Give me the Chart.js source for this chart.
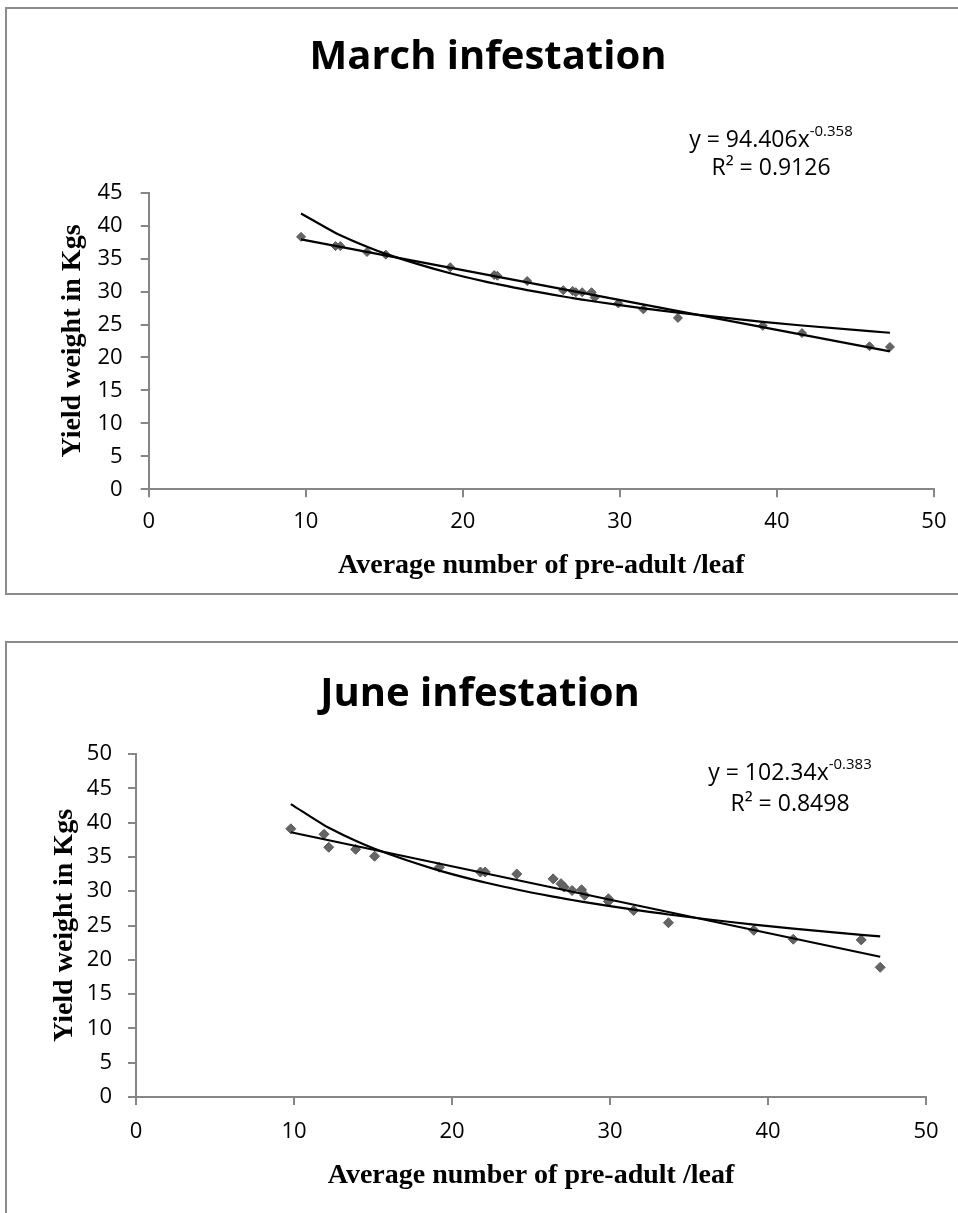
<!DOCTYPE html>
<html>
<head>
<meta charset="utf-8">
<script src="https://cdn.jsdelivr.net/npm/chart.js@4.4.0/dist/chart.umd.min.js"></script>
<style>
  body { margin: 0; background: #fff; width: 958px; height: 1213px; overflow: hidden; position: relative; }
  .frame { position: absolute; border: 2px solid #8c8c8c; box-sizing: border-box; }
  #frame1 { left: 5px; top: 7px; width: 990px; height: 588px; }
  #frame2 { left: 5px; top: 641px; width: 990px; height: 620px; }
  canvas { position: absolute; left: 0; }
  #marchChart { top: 0; }
  #juneChart { top: 620px; }
</style>
</head>
<body>
<div class="frame" id="frame1"></div>
<div class="frame" id="frame2"></div>
<canvas id="marchChart" width="958" height="600"></canvas>
<canvas id="juneChart" width="958" height="593"></canvas>
<script>
// March infestation: pre-adults per leaf vs yield (kg)
var marchX = [9.7, 11.9, 12.2, 13.9, 15.1, 19.2, 22.0, 22.2, 24.1, 26.4, 27.0, 27.2, 27.6, 28.2, 28.4, 29.9, 31.5, 33.7, 39.1, 41.6, 45.9, 47.2];
var marchY = [38.3, 36.9, 36.9, 36.0, 35.6, 33.7, 32.5, 32.4, 31.6, 30.2, 30.1, 29.9, 29.9, 29.9, 29.1, 28.2, 27.3, 26.0, 24.8, 23.7, 21.7, 21.6];

// June infestation
var juneX = [9.8, 11.9, 12.2, 13.9, 15.1, 19.2, 21.8, 22.1, 24.1, 26.4, 26.9, 27.1, 27.6, 28.2, 28.4, 29.9, 29.9, 31.5, 33.7, 39.1, 41.6, 45.9, 47.1];
var juneY = [39.1, 38.3, 36.4, 36.1, 35.1, 33.5, 32.8, 32.8, 32.5, 31.8, 31.1, 30.6, 30.1, 30.2, 29.4, 28.9, 28.5, 27.2, 25.4, 24.3, 23.0, 22.9, 18.9];

// power trendline equations as printed on the charts
var marchPow = { a: 94.406, b: -0.358, r2: '0.9126' };
var junePow = { a: 102.34, b: -0.383, r2: '0.8498' };

var xTicks = [0, 10, 20, 30, 40, 50];

var axisGray = '#868686';
var tickFont = { family: 'Open Sans', size: 22 };
var axisTitleFont = { family: 'Liberation Serif', size: 28, weight: 'bold' };

function toPoints(xs, ys) {
    return xs.map(function (x, i) { return { x: x, y: ys[i] }; });
}

function linearFit(xs, ys) {
    var n = xs.length, sx = 0, sy = 0, sxx = 0, sxy = 0;
    for (var i = 0; i < n; i++) {
        sx += xs[i]; sy += ys[i]; sxx += xs[i] * xs[i]; sxy += xs[i] * ys[i];
    }
    var m = (n * sxy - sx * sy) / (n * sxx - sx * sx);
    var c = (sy - m * sx) / n;
    var lo = Math.min.apply(null, xs), hi = Math.max.apply(null, xs);
    return [{ x: lo, y: m * lo + c }, { x: hi, y: m * hi + c }];
}

function powerCurve(xs, eq) {
    var uniq = xs.filter(function (v, i, a) { return a.indexOf(v) === i; });
    return uniq.map(function (x) { return { x: x, y: eq.a * Math.pow(x, eq.b) }; });
}

// draws "y = ax^b" and "R² = ..." like the Excel label
var equationLabel = {
    id: 'equationLabel',
    afterDraw: function (chart, args, opts) {
        var ctx = chart.ctx;
        ctx.save();
        ctx.fillStyle = '#000';
        ctx.textBaseline = 'middle';
        var main = 'y = ' + opts.a + 'x';
        var sup = String(opts.b);
        ctx.font = '23px "Open Sans"';
        var wMain = ctx.measureText(main).width;
        ctx.font = '15px "Open Sans"';
        var wSup = ctx.measureText(sup).width;
        var left = opts.cx - (wMain + wSup) / 2;
        ctx.textAlign = 'left';
        ctx.font = '23px "Open Sans"';
        ctx.fillText(main, left, opts.y1);
        ctx.font = '15px "Open Sans"';
        ctx.fillText(sup, left + wMain, opts.y1 - 8);
        ctx.textAlign = 'center';
        ctx.font = '23px "Open Sans"';
        ctx.fillText('R\u00b2 = ' + opts.r2, opts.cx, opts.y2);
        ctx.restore();
    }
};

function makeChart(canvasId, cfg) {
    var pts = toPoints(cfg.xs, cfg.ys);
    return new Chart(document.getElementById(canvasId), {
        type: 'scatter',
        data: {
            datasets: [
                {
                    label: 'observed',
                    data: pts,
                    pointStyle: 'rectRot',
                    pointRadius: cfg.pointRadius,
                    backgroundColor: '#646464',
                    borderColor: '#5a5a5a',
                    borderWidth: 1,
                    order: 2
                },
                {
                    label: 'linear',
                    data: linearFit(cfg.xs, cfg.ys),
                    showLine: true,
                    borderColor: '#000',
                    borderWidth: 2.2,
                    pointRadius: 0,
                    order: 1
                },
                {
                    label: 'power',
                    data: powerCurve(cfg.xs, cfg.eq),
                    showLine: true,
                    cubicInterpolationMode: 'monotone',
                    borderColor: '#000',
                    borderWidth: 2.2,
                    pointRadius: 0,
                    order: 1
                }
            ]
        },
        options: {
            responsive: false,
            animation: false,
            events: [],
            layout: { padding: { left: cfg.padLeft, right: cfg.padRight, top: 0, bottom: 0 } },
            plugins: {
                legend: { display: false },
                tooltip: { enabled: false },
                title: {
                    display: true,
                    text: cfg.title,
                    color: '#000',
                    font: { family: 'Open Sans', size: 40, weight: 'bold' },
                    padding: { top: cfg.titleTop, bottom: cfg.titleBottom }
                },
                equationLabel: { a: cfg.eq.a, b: cfg.eq.b, r2: cfg.eq.r2, cx: cfg.eqX, y1: cfg.eqY1, y2: cfg.eqY2 }
            },
            scales: {
                x: {
                    type: 'linear',
                    min: 0,
                    max: 50,
                    afterBuildTicks: function (s) { s.ticks = xTicks.map(function (v) { return { value: v }; }); },
                    afterFit: function (s) { s.height = cfg.xAxisHeight; },
                    border: { display: true, color: axisGray, width: 2 },
                    grid: { drawOnChartArea: false, drawTicks: true, tickLength: 8, color: axisGray, lineWidth: 2 },
                    ticks: { color: '#000', font: tickFont, padding: cfg.xTickPad, maxRotation: 0 },
                    title: {
                        display: true,
                        text: 'Average number of pre-adult /leaf',
                        color: '#000',
                        font: axisTitleFont,
                        padding: { top: 0, bottom: cfg.xTitlePad }
                    }
                },
                y: {
                    type: 'linear',
                    min: 0,
                    max: cfg.yMax,
                    ticks: { stepSize: 5, color: '#000', font: tickFont, padding: cfg.yTickPad },
                    afterFit: function (s) { s.width = cfg.yAxisWidth; },
                    border: { display: true, color: axisGray, width: 2 },
                    grid: { drawOnChartArea: false, drawTicks: true, tickLength: 8, color: axisGray, lineWidth: 2 },
                    title: {
                        display: true,
                        text: 'Yield weight in Kgs',
                        color: '#000',
                        font: axisTitleFont,
                        padding: { top: cfg.yTitlePad, bottom: 0 }
                    }
                }
            }
        },
        plugins: [equationLabel]
    });
}

makeChart('marchChart', {
    xs: marchX, ys: marchY, eq: marchPow,
    title: 'March infestation',
    yMax: 45,
    pointRadius: 4.5,
    padLeft: 38, padRight: 20,
    titleTop: 34, titleBottom: 110.7,
    yAxisWidth: 110.7, xAxisHeight: 110.7,
    xTickPad: 11.5, yTickPad: 18,
    xTitlePad: 17, yTitlePad: 17.7,
    eqX: 771, eqY1: 140, eqY2: 168
});

makeChart('juneChart', {
    xs: juneX, ys: juneY, eq: junePow,
    title: 'June infestation',
    yMax: 50,
    pointRadius: 5,
    padLeft: 34, padRight: 32,
    titleTop: 51, titleBottom: 35,
    yAxisWidth: 102, xAxisHeight: 116,
    xTickPad: 13.8, yTickPad: 16,
    xTitlePad: 20, yTitlePad: 13.5,
    eqX: 790, eqY1: 153, eqY2: 184
});
</script>
</body>
</html>
